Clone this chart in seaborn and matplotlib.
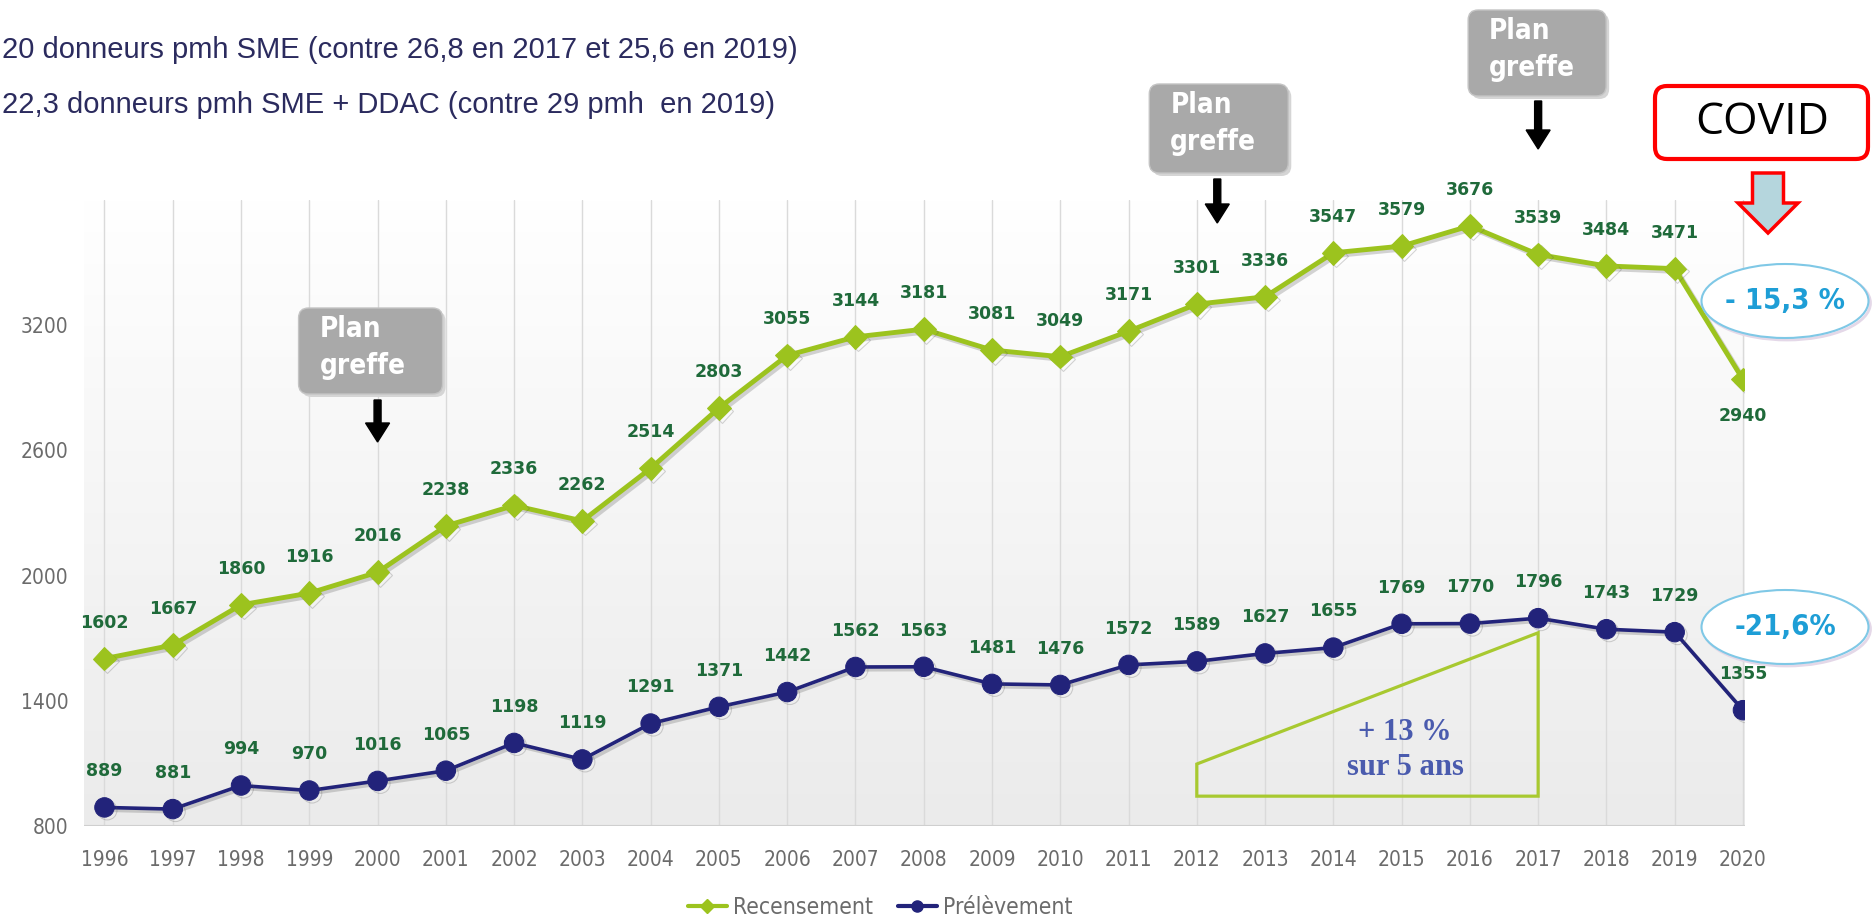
import numpy as np
import pandas as pd
import matplotlib
matplotlib.use("Agg")
import matplotlib.pyplot as plt
import matplotlib.patheffects as pe
import seaborn as sns
from matplotlib.patches import FancyBboxPatch, FancyArrow, Ellipse, Polygon
from matplotlib.lines import Line2D
from matplotlib.colors import LinearSegmentedColormap

# ---------------- data ----------------
years = [1996, 1997, 1998, 1999, 2000, 2001, 2002, 2003, 2004, 2005, 2006, 2007, 2008,
         2009, 2010, 2011, 2012, 2013, 2014, 2015, 2016, 2017, 2018, 2019, 2020]
recensement = [1602, 1667, 1860, 1916, 2016, 2238, 2336, 2262, 2514, 2803, 3055, 3144, 3181,
               3081, 3049, 3171, 3301, 3336, 3547, 3579, 3676, 3539, 3484, 3471, 2940]
prelevement = [889, 881, 994, 970, 1016, 1065, 1198, 1119, 1291, 1371, 1442, 1562, 1563,
               1481, 1476, 1572, 1589, 1627, 1655, 1769, 1770, 1796, 1743, 1729, 1355]
series_names = ["Recensement", "Prélèvement"]
y_ticks = [800, 1400, 2000, 2600, 3200]
title_lines = ["20 donneurs pmh SME (contre 26,8 en 2017 et 25,6 en 2019)",
               "22,3 donneurs pmh SME + DDAC (contre 29 pmh  en 2019)"]
plan_years = [2000, 2012.3, 2017]
pct_labels = ["- 15,3 %", "-21,6%"]
growth_text = ["+ 13 %", "sur 5 ans"]

GREEN = "#9CC31E"
NAVY = "#22237A"
LABEL_GREEN = "#1F6A3A"
GRAY_TXT = "#6B6B6B"
COND = dict(family="DejaVu Sans", stretch="condensed")

sns.set_style("white")
plt.rcParams["font.family"] = ["DejaVu Sans"]

W, H = 1872, 918
fig = plt.figure(figsize=(W / 100, H / 100), dpi=100)
ax = fig.add_axes([84 / W, 1 - 826 / H, (1745 - 84) / W, (826 - 200) / H])
ax.set_xlim(1995.7, 2020.03)
ax.set_ylim(800, 3800)

# background gradient
grad = np.linspace(0, 1, 256).reshape(-1, 1)
cmap = LinearSegmentedColormap.from_list("bg", ["#EBEBEB", "#FFFFFF"])
ax.imshow(grad, extent=[0, 1, 0, 1], transform=ax.transAxes, cmap=cmap,
          aspect="auto", origin="lower", zorder=0)

for yr in years:
    ax.axvline(yr, color="#DADADA", lw=1.0, zorder=1)
ax.axhline(800, color="#CFCFCF", lw=1.5, zorder=1)

shadow_fx = [pe.SimpleLineShadow(offset=(2, -2), shadow_color="#555555", alpha=0.25), pe.Normal()]
df = pd.DataFrame({"year": years, series_names[0]: recensement, series_names[1]: prelevement})
sns.lineplot(data=df, x="year", y=series_names[0], ax=ax, color=GREEN, lw=3.5,
             marker="D", markersize=12, markeredgecolor=GREEN, zorder=4,
             path_effects=shadow_fx)
sns.lineplot(data=df, x="year", y=series_names[1], ax=ax, color=NAVY, lw=2.6,
             marker="o", markersize=14, markeredgecolor=NAVY, zorder=4,
             path_effects=shadow_fx)

for x, v in zip(years, recensement):
    dy = -26 if x == years[-1] else 26
    ax.annotate(f"{v}", (x, v), xytext=(0, dy), textcoords="offset points",
                ha="center", va="center", fontsize=12.5, fontweight="bold",
                color=LABEL_GREEN, zorder=5)
for x, v in zip(years, prelevement):
    ax.annotate(f"{v}", (x, v), xytext=(0, 26), textcoords="offset points",
                ha="center", va="center", fontsize=12.5, fontweight="bold",
                color=LABEL_GREEN, zorder=5)

for s in ax.spines.values():
    s.set_visible(False)
ax.set_yticks(y_ticks)
ax.set_yticklabels([str(t) for t in y_ticks], fontsize=15, color=GRAY_TXT, **COND)
ax.set_xticks(years)
ax.set_xticklabels([str(y) for y in years], fontsize=15, color=GRAY_TXT, **COND)
ax.tick_params(axis="y", length=0, pad=11)
ax.tick_params(axis="x", length=0, pad=17)
ax.set_xlabel("")
ax.set_ylabel("")
ax.grid(False)

# growth triangle
tri_x = [2012, 2012, 2017, 2017]
tri_y = [1097, 943, 943, 1726]
ax.add_patch(Polygon(list(zip(tri_x, tri_y)), closed=True, fill=False,
                     edgecolor="#A8C930", lw=2.3, zorder=3))
ax.text(2015.05, 1250, growth_text[0], ha="center", va="center", family="Liberation Serif",
        fontweight="bold", fontsize=22, color="#4A5BAE", zorder=5)
ax.text(2015.05, 1080, growth_text[1], ha="center", va="center", family="Liberation Serif",
        fontweight="bold", fontsize=22, color="#4A5BAE", zorder=5)

# legend
handles = [Line2D([0], [0], color=GREEN, lw=3, marker="D", ms=7),
           Line2D([0], [0], color=NAVY, lw=3, marker="o", ms=8)]
fig.legend(handles, series_names, loc="center", bbox_to_anchor=(880 / W, 1 - 908 / H),
           ncol=2, frameon=False, handlelength=1.7, handletextpad=0.25, columnspacing=1.1,
           prop=dict(size=16.5, **COND), labelcolor=GRAY_TXT)

# ---------- decorations in pixel coords ----------
T = fig.dpi_scale_trans
def P(x, y):
    return (x / 100, (H - y) / 100)

def year_px(yr):
    return ax.transData.transform((yr, 800))[0]

# title lines
fig.text(*P(2, 50), title_lines[0], transform=T, ha="left", va="center",
         family="Liberation Sans", fontsize=21, color="#2B2B5E")
fig.text(*P(2, 105), title_lines[1], transform=T, ha="left", va="center",
         family="Liberation Sans", fontsize=21, color="#2B2B5E")

# plan greffe boxes
boxes = [(-79, 65, 308, 394, 400, 442), (-68, 71, 84, 173, 179, 223), (-70, 68, 10, 96, 101, 149)]
for yr, (l, r, top, bot, a0, a1) in zip(plan_years, boxes):
    xc = year_px(yr)
    x0, y0 = P(xc + l, bot)
    bw, bh = (r - l) / 100, (bot - top) / 100
    shadow = FancyBboxPatch((x0 + 0.03, y0 - 0.03), bw, bh, boxstyle="round,pad=0,rounding_size=0.1",
                            transform=T, facecolor="#D5D5D5", edgecolor="none", zorder=2)
    fig.add_artist(shadow)
    box = FancyBboxPatch((x0, y0), bw, bh, boxstyle="round,pad=0,rounding_size=0.1",
                         transform=T, facecolor="#A9A9A9", edgecolor="#C4C4C4", lw=1, zorder=3)
    fig.add_artist(box)
    fig.text(*P(xc + l + 21, top + 21), "Plan", transform=T, ha="left", va="center",
             fontweight="bold", fontsize=20, color="white", zorder=4, **COND)
    fig.text(*P(xc + l + 21, top + 58), "greffe", transform=T, ha="left", va="center",
             fontweight="bold", fontsize=20, color="white", zorder=4, **COND)
    ax0 = P(xc, a0)
    arr = FancyArrow(ax0[0], ax0[1], 0, -(a1 - a0) / 100, width=0.07, head_width=0.24,
                     head_length=0.19, length_includes_head=True, transform=T,
                     facecolor="black", edgecolor="black", zorder=3)
    fig.add_artist(arr)

# COVID box
cx0, cy0 = P(1655, 159)
fig.add_artist(FancyBboxPatch((cx0, cy0), (1868 - 1655) / 100, (159 - 86) / 100,
                              boxstyle="round,pad=0,rounding_size=0.12", transform=T,
                              facecolor="white", edgecolor="#FF0000", lw=3, zorder=3))
fig.text(*P(1762, 123), "COVID", transform=T, ha="center", va="center",
         family="Open Sans", fontsize=32, color="black", zorder=4)
ca = P(1768, 173)
fig.add_artist(FancyArrow(ca[0], ca[1], 0, -0.60, width=0.31, head_width=0.60,
                          head_length=0.30, length_includes_head=True, transform=T,
                          facecolor="#B5D6DD", edgecolor="#FF0000", lw=2.5, zorder=3))

# percentage ellipses
for (ex, ey), lab in zip([(1785, 301), (1785, 627)], pct_labels):
    c = P(ex, ey)
    fig.add_artist(Ellipse((c[0] + 0.02, c[1] - 0.02), 1.67, 0.74, transform=T,
                           facecolor="none", edgecolor="#E4D8E8", lw=2, zorder=3))
    fig.add_artist(Ellipse(c, 1.67, 0.74, transform=T, facecolor="white",
                           edgecolor="#7FC8E6", lw=1.5, zorder=3))
    fig.text(*c, lab, transform=T, ha="center", va="center",
             fontweight="bold", fontsize=21, color="#1E9ED6", zorder=4, **COND)

fig.savefig("out.png", dpi=100)
